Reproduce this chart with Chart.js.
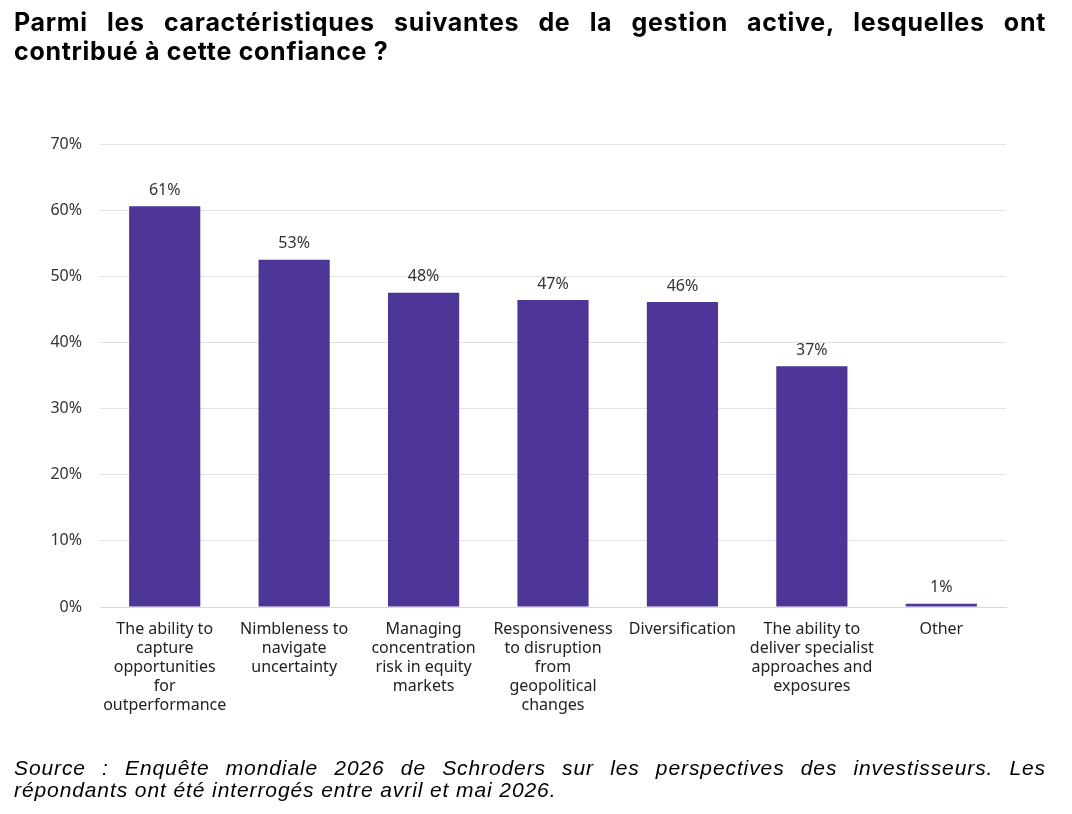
<!DOCTYPE html>
<html>
<head>
<meta charset="utf-8">
<script src="https://cdn.jsdelivr.net/npm/chart.js@4"></script>
<style>
 body{ margin:0; background:#fff; width:1072px; height:814px; overflow:hidden; position:relative; }
 .title, .source{ position:absolute; left:14px; width:1032px; color:#000; white-space:nowrap; }
 .title{ font:bold 25px "Inter", sans-serif; line-height:29px; letter-spacing:0.7px; }
 .source{ font:italic 21px "Liberation Sans", sans-serif; line-height:23px; letter-spacing:0.9px; }
 .just{ text-align:justify; text-align-last:justify; }
 #wrap{ position:absolute; left:0; top:0; width:1072px; height:814px; }
</style>
</head>
<body>
<div id="wrap"><canvas id="chart"></canvas></div>
<div class="title just" style="top:8px">Parmi les caractéristiques suivantes de la gestion active, lesquelles ont</div>
<div class="title" style="top:37px">contribué à cette confiance ?</div>
<div class="source just" style="top:756px">Source : Enquête mondiale 2026 de Schroders sur les perspectives des investisseurs. Les</div>
<div class="source" style="top:778px">répondants ont été interrogés entre avril et mai 2026.</div>
<script>
const categories = [
 ["The ability to","capture","opportunities","for","outperformance"],
 ["Nimbleness to","navigate","uncertainty"],
 ["Managing","concentration","risk in equity","markets"],
 ["Responsiveness","to disruption","from","geopolitical","changes"],
 ["Diversification"],
 ["The ability to","deliver specialist","approaches and","exposures"],
 ["Other"]
];
const shares = [60.6, 52.5, 47.5, 46.4, 46.1, 36.4, 0.5];
const shareLabels = ["61%","53%","48%","47%","46%","37%","1%"];
const yTicks = [0,10,20,30,40,50,60,70];

const barLabels = {
 id:'barLabels',
 afterDatasetsDraw(c){
   const ctx = c.ctx;
   const meta = c.getDatasetMeta(0);
   ctx.save();
   ctx.font = '16px "Noto Sans"';
   ctx.fillStyle = '#333';
   ctx.textAlign = 'center';
   ctx.textBaseline = 'bottom';
   meta.data.forEach((bar,i)=>{
     ctx.fillText(shareLabels[i], bar.x, bar.y - 8);
   });
   ctx.restore();
 }
};

new Chart(document.getElementById("chart"),{
 type:'bar',
 data:{
   labels:categories,
   datasets:[{
     data:shares,
     backgroundColor:'#4E3598',
     barPercentage:0.55,
     categoryPercentage:1
   }]
 },
 options:{
   responsive:true,
   maintainAspectRatio:false,
   animation:false,
   layout:{ padding:{ top:144, left:20, right:66, bottom:0 } },
   plugins:{ legend:{ display:false }, tooltip:{ enabled:false } },
   scales:{
     x:{
       grid:{ display:false, drawTicks:false },
       border:{ display:true, color:'#d9d9d9' },
       ticks:{ color:'#222', font:{ family:'Noto Sans', size:16, lineHeight:1.18 }, padding:13, maxRotation:0, autoSkip:false },
       afterFit(s){ s.height = 814 - 607; }
     },
     y:{
       min:0, max:70,
       afterBuildTicks(s){ s.ticks = yTicks.map(v=>({value:v})); },
       grid:{ color:'#e3e3e3', drawTicks:false },
       border:{ display:false },
       ticks:{ color:'#333', font:{ family:'Noto Sans', size:16 }, padding:18, callback:v=>v+'%' },
       afterFit(s){ s.width = 100 - 20; }
     }
   }
 },
 plugins:[barLabels]
});
</script>
</body>
</html>
